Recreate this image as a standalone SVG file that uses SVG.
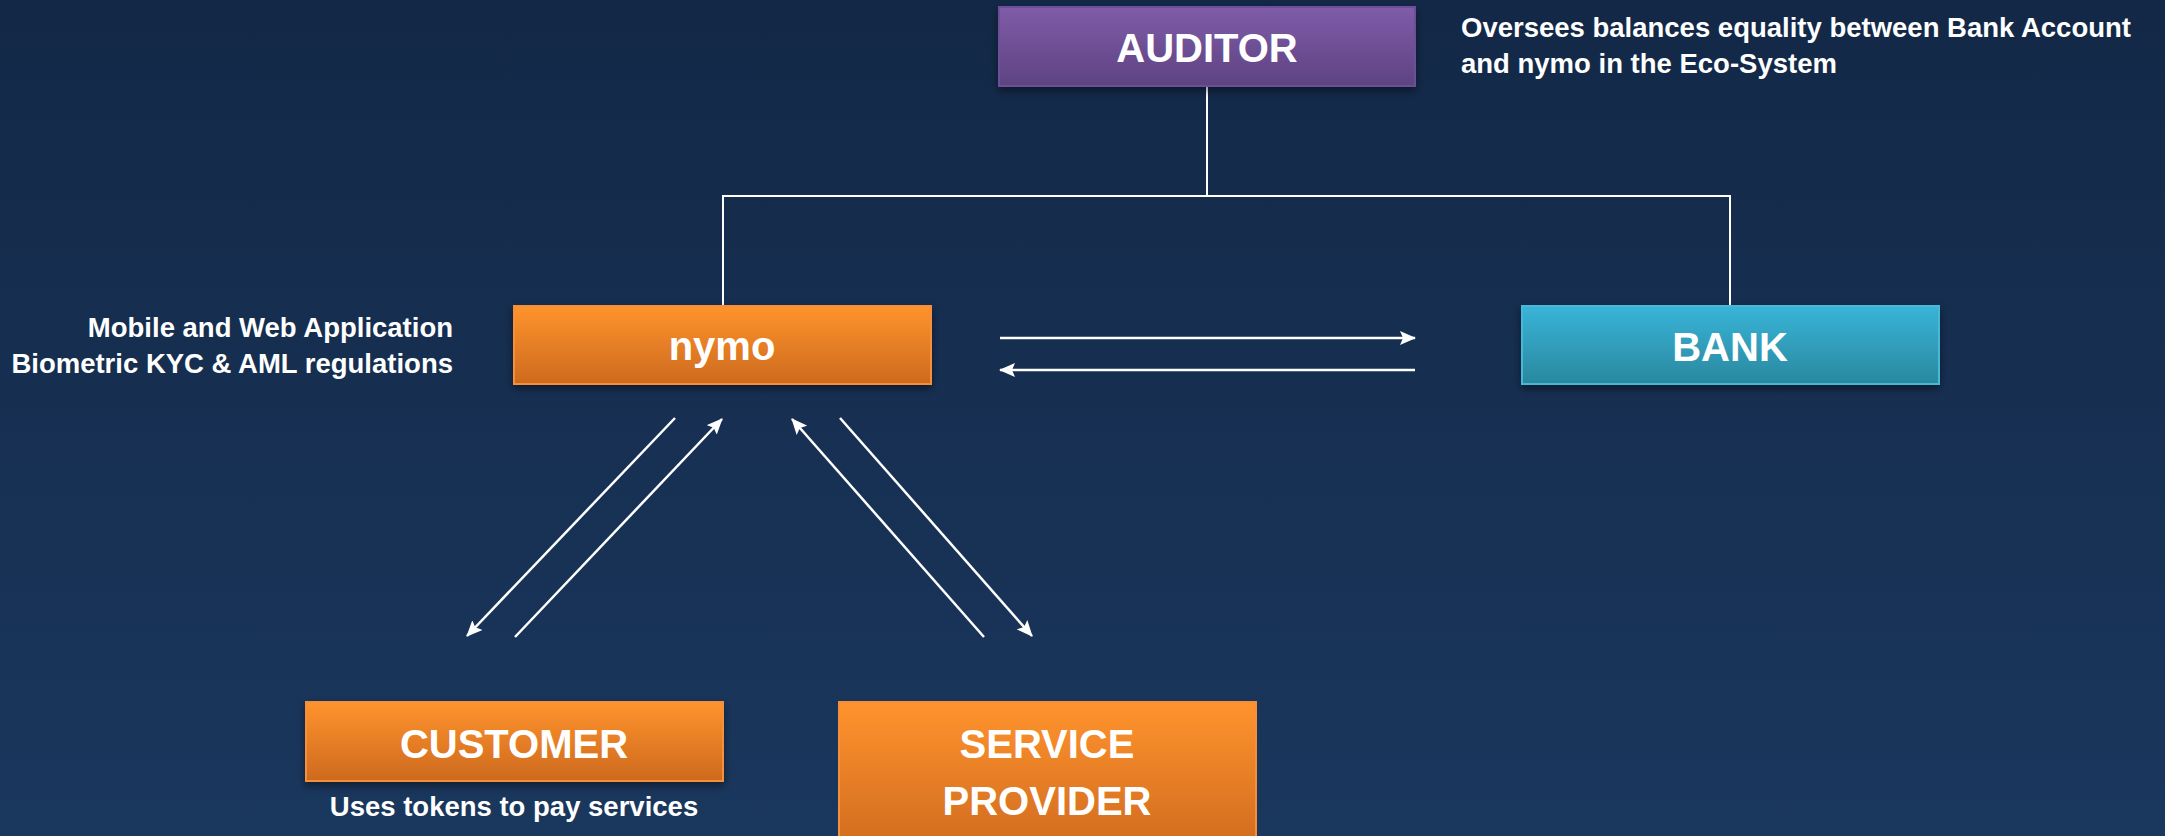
<svg xmlns="http://www.w3.org/2000/svg" width="2165" height="836" viewBox="0 0 2165 836">
  <defs>
    <linearGradient id="bg" x1="0" y1="0" x2="0" y2="1">
      <stop offset="0" stop-color="#132847"/>
      <stop offset="1" stop-color="#1a375d"/>
    </linearGradient>
    <linearGradient id="gPurple" x1="0" y1="0" x2="0" y2="1">
      <stop offset="0" stop-color="#7f5ca8"/>
      <stop offset="1" stop-color="#5e4382"/>
    </linearGradient>
    <linearGradient id="gOrange" x1="0" y1="0" x2="0" y2="1">
      <stop offset="0" stop-color="#ff932d"/>
      <stop offset="1" stop-color="#cd6a1e"/>
    </linearGradient>
    <linearGradient id="gOrangeTall" x1="0" y1="702" x2="0" y2="836" gradientUnits="userSpaceOnUse">
      <stop offset="0" stop-color="#ff932d"/>
      <stop offset="1" stop-color="#d46f20"/>
    </linearGradient>
    <linearGradient id="gBlue" x1="0" y1="0" x2="0" y2="1">
      <stop offset="0" stop-color="#38b4d8"/>
      <stop offset="1" stop-color="#2a889f"/>
    </linearGradient>
    <filter id="shadow" x="-10%" y="-20%" width="120%" height="150%">
      <feDropShadow dx="0" dy="4" stdDeviation="4" flood-color="#000" flood-opacity="0.45"/>
    </filter>
    <marker id="arrow" markerUnits="userSpaceOnUse" markerWidth="16" markerHeight="14" refX="15" refY="7" orient="auto">
      <path d="M0,0 L16,7 L0,14 L3,7 Z" fill="#ffffff"/>
    </marker>
  </defs>
  <style>
    .big { font-family: "Liberation Sans", Arial, sans-serif; font-weight: bold; font-size: 40px; fill: #ffffff; text-anchor: middle; }
    .small { font-family: "Liberation Sans", Arial, sans-serif; font-weight: bold; font-size: 27.5px; fill: #ffffff; }
    .line { stroke: #ffffff; stroke-width: 2; fill: none; }
    .arr { stroke: #ffffff; stroke-width: 2.5; fill: none; marker-end: url(#arrow); }
  </style>

  <rect x="0" y="0" width="2165" height="836" fill="url(#bg)"/>

  <g id="connectors">
    <polyline class="line" points="1207,87 1207,196"/>
    <polyline class="line" points="723,306 723,196 1730,196 1730,306" stroke-width="2.5"/>
    <line class="arr" x1="1000" y1="338" x2="1415" y2="338"/>
    <line class="arr" x1="1415" y1="370" x2="1000" y2="370"/>
    <line class="arr" x1="675" y1="418" x2="467" y2="636"/>
    <line class="arr" x1="515" y1="637" x2="722" y2="419"/>
    <line class="arr" x1="984" y1="637" x2="792" y2="419"/>
    <line class="arr" x1="840" y1="418" x2="1032" y2="636"/>
  </g>

  <g id="auditor">
    <rect x="999" y="7" width="416" height="79" fill="url(#gPurple)" stroke="#6c5096" stroke-width="2" filter="url(#shadow)"/>
    <text class="big" x="1207" y="62">AUDITOR</text>
  </g>
  <g id="auditor-note">
    <text class="small" x="1461" y="37">Oversees balances equality between Bank Account</text>
    <text class="small" x="1461" y="73">and nymo in the Eco-System</text>
  </g>

  <g id="nymo">
    <rect x="514" y="306" width="417" height="78" fill="url(#gOrange)" stroke="#f58f3a" stroke-width="2" filter="url(#shadow)"/>
    <text class="big" x="722" y="360">nymo</text>
  </g>
  <g id="nymo-note">
    <text class="small" x="453" y="337" text-anchor="end">Mobile and Web Application</text>
    <text class="small" x="453" y="373" text-anchor="end">Biometric KYC &amp; AML regulations</text>
  </g>

  <g id="bank">
    <rect x="1522" y="306" width="417" height="78" fill="url(#gBlue)" stroke="#48b7d6" stroke-width="2" filter="url(#shadow)"/>
    <text class="big" x="1730" y="361">BANK</text>
  </g>

  <g id="customer">
    <rect x="306" y="702" width="417" height="79" fill="url(#gOrange)" stroke="#f58f3a" stroke-width="2" filter="url(#shadow)"/>
    <text class="big" x="514" y="758">CUSTOMER</text>
    <text class="small" x="514" y="816" text-anchor="middle">Uses tokens to pay services</text>
  </g>

  <g id="service-provider">
    <rect x="839" y="702" width="417" height="150" fill="url(#gOrangeTall)" stroke="#f58f3a" stroke-width="2"/>
    <text class="big" x="1047" y="758">SERVICE</text>
    <text class="big" x="1047" y="815">PROVIDER</text>
  </g>
</svg>
